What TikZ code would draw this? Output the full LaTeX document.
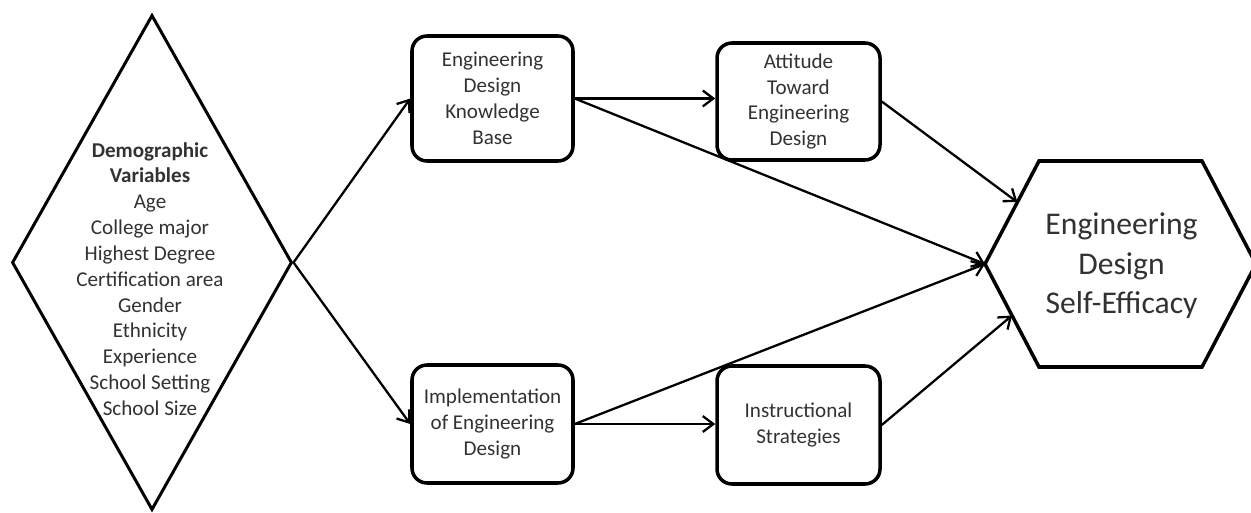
\documentclass[tikz,border=0pt]{standalone}
\usepackage{fontspec}
\setmainfont{Carlito}
\usepackage{xcolor}
\usepackage{tikz}
\usetikzlibrary{arrows.meta, positioning, calc, shapes.geometric}
\definecolor{edtext}{RGB}{50,50,50}
\tikzset{
  edbox/.style={draw, line width=2pt, rounded corners=0.3cm, align=center,
    text=edtext, font=\fontsize{12}{14.7}\selectfont, inner sep=0pt},
  edarrow/.style={line width=1.3pt, -{Straight Barb[length=6pt,width=9pt]}},
}

\begin{document}
\begin{tikzpicture}[x=1cm, y=1cm]
\useasboundingbox (0,0) rectangle (25.02,10.24);

% demographic diamond
\node[diamond, draw, line width=1.7pt, minimum width=5.6cm, minimum height=9.9cm,
  inner sep=0pt] (demo) at (3.04,4.99) {};
\node[text=edtext, font=\fontsize{12}{14.7}\selectfont, align=center] (demotxt) at (3.0,4.66)
  {\textbf{Demographic}\\\textbf{Variables}\\Age\\College major\\Highest Degree\\
   Certification area\\Gender\\Ethnicity\\Experience\\School Setting\\School Size};

% middle boxes
\node[edbox, minimum width=3.22cm, minimum height=2.5cm] (know) at (9.85,8.27)
  {Engineering\\Design\\Knowledge\\Base};
\node[edbox, minimum width=3.26cm, minimum height=2.34cm] (attit) at (15.97,8.21)
  {Attitude\\Toward\\Engineering\\Design};
\node[edbox, minimum width=3.22cm, minimum height=2.36cm] (impl) at (9.85,1.76)
  {Implementation\\of Engineering\\Design};
\node[edbox, minimum width=3.26cm, minimum height=2.36cm] (instr) at (15.97,1.74)
  {Instructional\\Strategies};

% self-efficacy hexagon
\node[text=edtext, font=\fontsize{18}{22.4}\selectfont, align=center] (effic) at (22.43,4.92)
  {Engineering\\Design\\Self-Efficacy};
\coordinate (hexL)  at (19.70,4.96);
\coordinate (hexTL) at (20.78,7.02);
\coordinate (hexTR) at (24.04,7.02);
\coordinate (hexR)  at (25.12,4.96);
\coordinate (hexBR) at (24.04,2.90);
\coordinate (hexBL) at (20.78,2.90);
\draw[line width=2pt, line join=miter]
  (hexL) -- (hexTL) -- (hexTR) -- (hexR) -- (hexBR) -- (hexBL) -- cycle;

% arrows
\draw[edarrow] (demo.east) -- (know.west);
\draw[edarrow] (demo.east) -- (impl.west);
\draw[edarrow] (know.east) -- (know.east -| attit.west);
\draw[edarrow] (impl.east) -- (impl.east -| instr.west);
\draw[edarrow] (know.east) -- (hexL);
\draw[edarrow] (impl.east) -- (hexL);
\draw[edarrow] (attit.east) -- ($(hexL)!0.6!(hexTL)$);
\draw[edarrow] (instr.east) -- ($(hexL)!0.5!(hexBL)$);
\end{tikzpicture}
\end{document}
